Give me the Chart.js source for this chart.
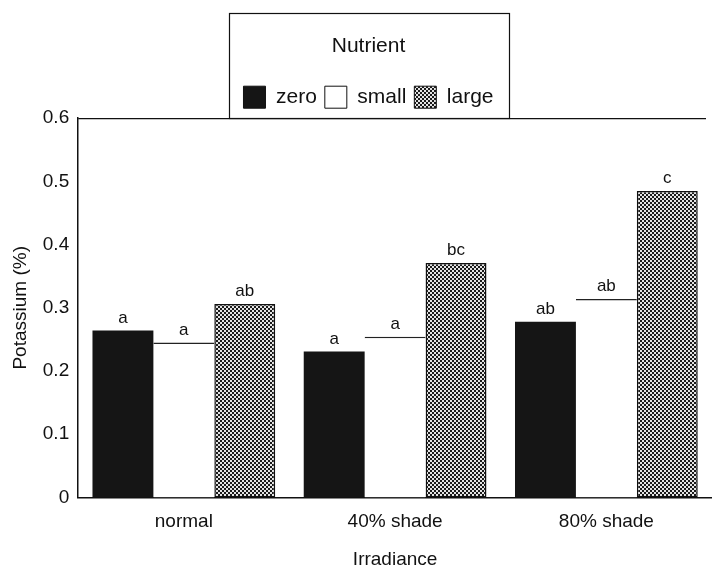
<!DOCTYPE html>
<html>
<head>
<meta charset="utf-8">
<script src="https://cdn.jsdelivr.net/npm/chart.js@4"></script>
<style>
  body { margin: 0; background: #fff; }
  #wrap { width: 712px; height: 571px; position: relative; }
</style>
</head>
<body>
<div id="wrap"><canvas id="miGrafico"></canvas></div>
<script>
// datos
const irradiance = ['normal', '40% shade', '80% shade'];
const zeroVals = [0.264, 0.231, 0.278];
const smallVals = [0.245, 0.254, 0.314];
const largeVals = [0.306, 0.371, 0.485];
const zeroLetters = ['a', 'a', 'ab'];
const smallLetters = ['a', 'a', 'ab'];
const largeLetters = ['ab', 'bc', 'c'];
const yTicks = [0, 0.1, 0.2, 0.3, 0.4, 0.5, 0.6];

const FONT = '"Liberation Sans", Arial, Helvetica, sans-serif';
const LEGEND_SHIFT = 10; // la leyenda esta un poco a la derecha

// trama de cuadritos para "large"
function checker() {
    const c = document.createElement('canvas');
    c.width = 4; c.height = 4;
    const g = c.getContext('2d');
    g.fillStyle = '#e4e4e4';
    g.fillRect(0, 0, 4, 4);
    g.fillStyle = '#1a1a1a';
    g.fillRect(0, 0, 2, 2);
    g.fillRect(2, 2, 2, 2);
    return g.createPattern(c, 'repeat');
}
const ctx = document.getElementById('miGrafico').getContext('2d');
const pattern = checker();

// letras sobre las barras
const letrasPlugin = {
    id: 'letras',
    afterDatasetsDraw(chart) {
        const c = chart.ctx;
        c.save();
        c.font = '17px ' + FONT;
        c.fillStyle = '#111';
        c.textAlign = 'center';
        c.textBaseline = 'bottom';
        chart.data.datasets.forEach((ds, i) => {
            chart.getDatasetMeta(i).data.forEach((bar, j) => {
                c.fillText(ds.letters[j], bar.x, bar.y - 4);
            });
        });
        c.restore();
    }
};

// marco del area y caja de la leyenda
const marcoPlugin = {
    id: 'marco',
    afterLayout(chart) {
        const lg = chart.legend;
        if (!lg) return;
        lg.left += LEGEND_SHIFT;
        lg.right += LEGEND_SHIFT;
        lg.legendHitBoxes.forEach(h => { h.left += LEGEND_SHIFT; });
    },
    afterDraw(chart) {
        const c = chart.ctx;
        const a = chart.chartArea;
        const lg = chart.legend;
        c.save();
        c.strokeStyle = '#111';
        c.lineWidth = 1.2;
        c.beginPath();
        c.moveTo(a.left, a.top + 0.5);
        c.lineTo(a.right - 6, a.top + 0.5);
        c.stroke();
        if (lg && lg.legendHitBoxes.length) {
            const hb = lg.legendHitBoxes;
            const l = Math.min(...hb.map(h => h.left)) - 14;
            const r = Math.max(...hb.map(h => h.left + h.width)) + 16;
            c.strokeRect(Math.round(l) + 0.5, Math.round(lg.top) + 0.5, Math.round(r - l), Math.round(a.top - lg.top));
        }
        c.restore();
    }
};

const miGrafico = new Chart(ctx, {
    type: 'bar',
    data: {
        labels: irradiance,
        datasets: [{
            label: 'zero',
            data: zeroVals,
            letters: zeroLetters,
            backgroundColor: '#151515',
            borderColor: '#151515',
            borderWidth: 0
        }, {
            label: 'small',
            data: smallVals,
            letters: smallLetters,
            backgroundColor: '#ffffff',
            borderColor: '#222',
            borderWidth: { top: 1.5, left: 0, right: 0, bottom: 0 }
        }, {
            label: 'large',
            data: largeVals,
            letters: largeLetters,
            backgroundColor: pattern,
            borderColor: '#111',
            borderWidth: 1.5
        }]
    },
    options: {
        responsive: true,
        maintainAspectRatio: false,
        animation: false,
        layout: { padding: { top: 13, right: 0, left: 5, bottom: 0 } },
        datasets: {
            bar: { categoryPercentage: 0.865, barPercentage: 1, borderSkipped: false }
        },
        plugins: {
            tooltip: { enabled: false },
            legend: {
                position: 'top',
                title: {
                    display: true,
                    text: 'Nutrient',
                    color: '#111',
                    font: { family: FONT, size: 21 },
                    padding: { top: 23, bottom: 17 }
                },
                labels: {
                    color: '#111',
                    font: { family: FONT, size: 21 },
                    boxWidth: 22,
                    boxHeight: 22,
                    padding: 8,
                    generateLabels(chart) {
                        return chart.data.datasets.map((ds, i) => ({
                            text: ds.label,
                            fillStyle: ds.backgroundColor,
                            strokeStyle: '#111',
                            lineWidth: 1,
                            datasetIndex: i
                        }));
                    }
                }
            }
        },
        scales: {
            x: {
                grid: { display: false, drawTicks: false },
                border: { display: true, color: '#111', width: 1.5 },
                ticks: { color: '#111', font: { family: FONT, size: 19 }, padding: 13 },
                title: { display: true, text: 'Irradiance', color: '#111', font: { family: FONT, size: 19 }, padding: { top: 2, bottom: 0 } }
            },
            y: {
                min: 0,
                max: 0.6,
                afterBuildTicks(axis) { axis.ticks = yTicks.map(v => ({ value: v })); },
                grid: { display: false, drawTicks: false },
                border: { display: true, color: '#111', width: 1.5 },
                ticks: { color: '#111', font: { family: FONT, size: 19 }, padding: 9, callback: v => String(v) },
                title: { display: true, text: 'Potassium (%)', color: '#111', font: { family: FONT, size: 19 }, padding: { bottom: 2 } }
            }
        }
    },
    plugins: [letrasPlugin, marcoPlugin]
});
</script>
</body>
</html>
